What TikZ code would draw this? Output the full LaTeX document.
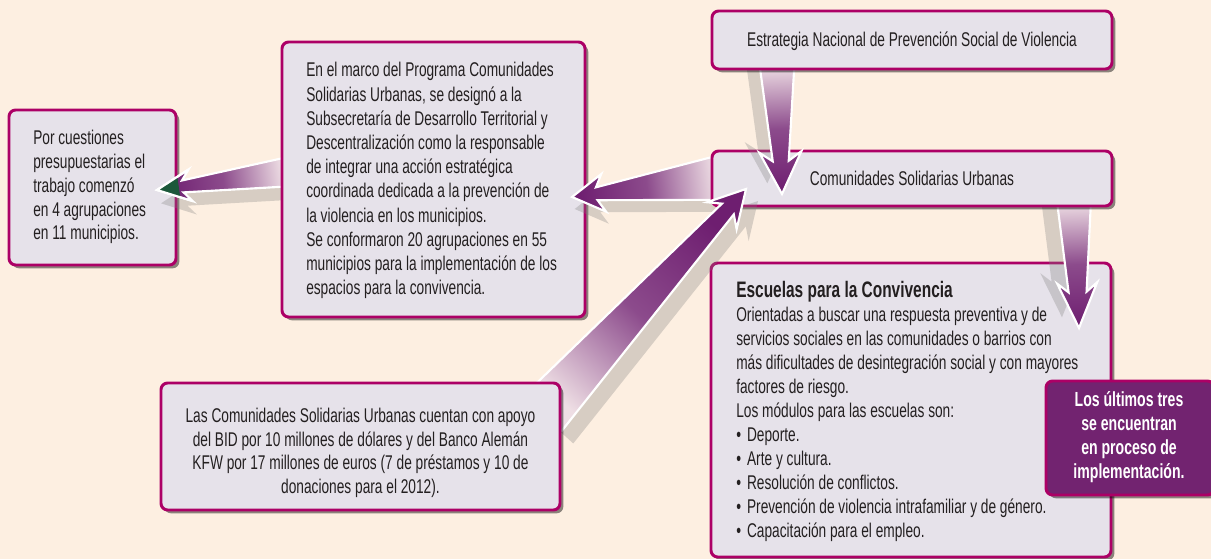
\documentclass[tikz,border=0pt]{standalone}
\usepackage{fontspec}
\setmainfont{Liberation Sans}[FakeStretch=0.69]
\usetikzlibrary{calc,shadows}
\definecolor{bgc}{RGB}{253,239,225}
\definecolor{boxfill}{RGB}{230,226,234}
\definecolor{boxborder}{RGB}{172,0,102}
\definecolor{purplefill}{RGB}{114,35,112}
\definecolor{arrowdark}{RGB}{110,30,112}
\definecolor{arrowmid}{RGB}{140,75,140}
\definecolor{arrowlight}{RGB}{238,222,228}
\definecolor{txt}{RGB}{35,31,32}
\definecolor{tipgreen}{RGB}{28,88,58}
\tikzset{
  box/.style={draw=boxborder, line width=2.2pt, rounded corners=5pt, fill=boxfill,
    drop shadow={shadow xshift=2.5pt, shadow yshift=-2.5pt, fill=black, opacity=0.45},
    inner sep=0pt},
  pbox/.style={box, fill=purplefill},
  txtnode/.style={inner sep=0pt, text=txt, font=\fontsize{14.9pt}{18pt}\selectfont},
  arrowshadow/.style={fill=gray, opacity=0.3},
  fatfill/.style={top color=arrowdark, bottom color=arrowlight, middle color=arrowmid, shading angle=#1},
  fatline/.style={draw=white, line width=1.6pt, line join=miter}
}
% #1 base, #2 tip, #3 base half-width, #4 neck half-width, #5 head half-width,
% #6 head length, #7 neck distance, #8 shadow shift, #9 shading angle (all lengths in px)
\newcommand{\fatarrow}[9]{%
  \coordinate (fH) at ($(#2)!#6*0.75pt!(#1)$);
  \coordinate (fN) at ($(#2)!#7*0.75pt!(#1)$);
  \coordinate (fb1) at ($(#1)!#3*0.75pt!90:(#2)$);
  \coordinate (fb2) at ($(#1)!#3*0.75pt!-90:(#2)$);
  \coordinate (fn1) at ($(fN)!#4*0.75pt!90:(#2)$);
  \coordinate (fn2) at ($(fN)!#4*0.75pt!-90:(#2)$);
  \coordinate (fh1) at ($(fH)!#5*0.75pt!90:(#2)$);
  \coordinate (fh2) at ($(fH)!#5*0.75pt!-90:(#2)$);
  \fill[arrowshadow, transform canvas={#8}] (fb1) -- (fn1) -- (fh1) -- (#2) -- (fh2) -- (fn2) -- (fb2) -- cycle;
  \path[fatfill=#9] (fb1) -- (fn1) -- (fh1) -- (#2) -- (fh2) -- (fn2) -- (fb2) -- cycle;
  \draw[fatline] (fb1) -- (fn1) -- (fh1) -- (#2) -- (fh2) -- (fn2) -- (fb2);
}
\begin{document}
\begin{tikzpicture}[x=0.75pt, y=-0.75pt]
\fill[bgc] (0,0) rectangle (1211,559);
\useasboundingbox (0,0) rectangle (1211,559);

% left box
\node[box, minimum width=125.25pt, minimum height=116.25pt] (left) at (92.5,187.5) {};
\node[txtnode, anchor=base west, font=\fontsize{14.9pt}{17.8pt}\selectfont] (lefttxt) at (33,145) {\begin{minipage}[t]{130pt}\raggedright
Por cuestiones\\
presupuestarias el\\
trabajo comenzó\\
en 4 agrupaciones\\
en 11 municipios.\end{minipage}};

% arrow middle -> left
\coordinate (a5b) at (287,172);
\coordinate (a5t) at (157,190);
\fatarrow{a5b}{a5t}{14.5}{6}{16}{34}{26}{xshift=3pt,yshift=-10pt}{98}
\coordinate (g0) at ($(a5t)!16.5pt!(a5b)$);
\fill[tipgreen] (a5t) -- ($(g0)!7.5pt!90:(a5t)$) -- ($(g0)!7.5pt!-90:(a5t)$) -- cycle;
\draw[fatline] (fh1) -- (a5t) -- (fh2);

% middle box
\node[box, minimum width=227.25pt, minimum height=206.25pt] (mid) at (433.5,179.5) {};
\node[txtnode, anchor=base west, font=\fontsize{14.9pt}{18.15pt}\selectfont] (midtxt) at (306,77) {\begin{minipage}[t]{220pt}\raggedright
En el marco del Programa Comunidades\\
Solidarias Urbanas, se designó a la\\
Subsecretaría de Desarrollo Territorial y\\
Descentralización como la responsable\\
de integrar una acción estratégica\\
coordinada dedicada a la prevención de\\
la violencia en los municipios.\\
Se conformaron 20 agrupaciones en 55\\
municipios para la implementación de los\\
espacios para la convivencia.\end{minipage}};

% Escuelas box
\node[box, minimum width=300pt, minimum height=220.5pt] (esc) at (911,410) {};
\node[txtnode, anchor=base west] (esctxt) at (736,298) {\begin{minipage}[t]{290pt}\raggedright
{\bfseries\fontsize{16.8pt}{18pt}\selectfont Escuelas para la Convivencia}\\
Orientadas a buscar una respuesta preventiva y de\\
servicios sociales en las comunidades o barrios con\\
más dificultades de desintegración social y con mayores\\
factores de riesgo.\\
Los módulos para las escuelas son:\\
•\hspace{4.5pt}Deporte.\\
•\hspace{4.5pt}Arte y cultura.\\
•\hspace{4.5pt}Resolución de conflictos.\\
•\hspace{4.5pt}Prevención de violencia intrafamiliar y de género.\\
•\hspace{4.5pt}Capacitación para el empleo.\end{minipage}};

% arrows out of Comunidades
\coordinate (a2b) at (718,178);
\coordinate (a2t) at (572,197);
\fatarrow{a2b}{a2t}{22}{6.5}{19}{32}{25}{xshift=2pt,yshift=-9pt}{97}
\coordinate (a3b) at (1074,201);
\coordinate (a3t) at (1079,328);
\fatarrow{a3b}{a3t}{17}{9}{20}{45}{36}{xshift=-12.75pt,yshift=8pt}{-178}

% Comunidades box
\node[box, minimum width=300pt, minimum height=41.25pt] (com) at (912,178.5) {};
\node[txtnode, anchor=base] (comtxt) at (912,186) {Comunidades Solidarias Urbanas};

% arrows into Comunidades
\coordinate (a1b) at (777,64);
\coordinate (a1t) at (782,194);
\fatarrow{a1b}{a1t}{17.5}{8}{21}{42}{33}{xshift=-11pt,yshift=8pt}{-178}
\coordinate (a4b) at (542,414);
\coordinate (a4t) at (746,189);
\fatarrow{a4b}{a4t}{26}{8}{20}{36}{27}{xshift=9pt,yshift=-9pt}{-42}

% Estrategia box
\node[box, minimum width=300pt, minimum height=43.5pt] (est) at (912,40) {};
\node[txtnode, anchor=base] (esttxt) at (912,47) {Estrategia Nacional de Prevención Social de Violencia};

% bottom box
\node[box, minimum width=299.25pt, minimum height=95.25pt] (bot) at (360.5,446.5) {};
\node[txtnode, anchor=base, font=\fontsize{14.9pt}{17.6pt}\selectfont] (bottxt) at (360.5,423) {\begin{minipage}[t]{290pt}\centering
Las Comunidades Solidarias Urbanas cuentan con apoyo\\
del BID por 10 millones de dólares y del Banco Alemán\\
KFW por 17 millones de euros (7 de préstamos y 10 de\\
donaciones para el 2012).\end{minipage}};

% purple box
\node[pbox, minimum width=126pt, minimum height=85.5pt] (pur) at (1130,438) {};
\node[txtnode, anchor=base, text=white, font=\bfseries\fontsize{15.3pt}{17.8pt}\selectfont] (purtxt) at (1129,407) {\begin{minipage}[t]{110pt}\centering
Los últimos tres\\
se encuentran\\
en proceso de\\
implementación.\end{minipage}};
\end{tikzpicture}
\end{document}
